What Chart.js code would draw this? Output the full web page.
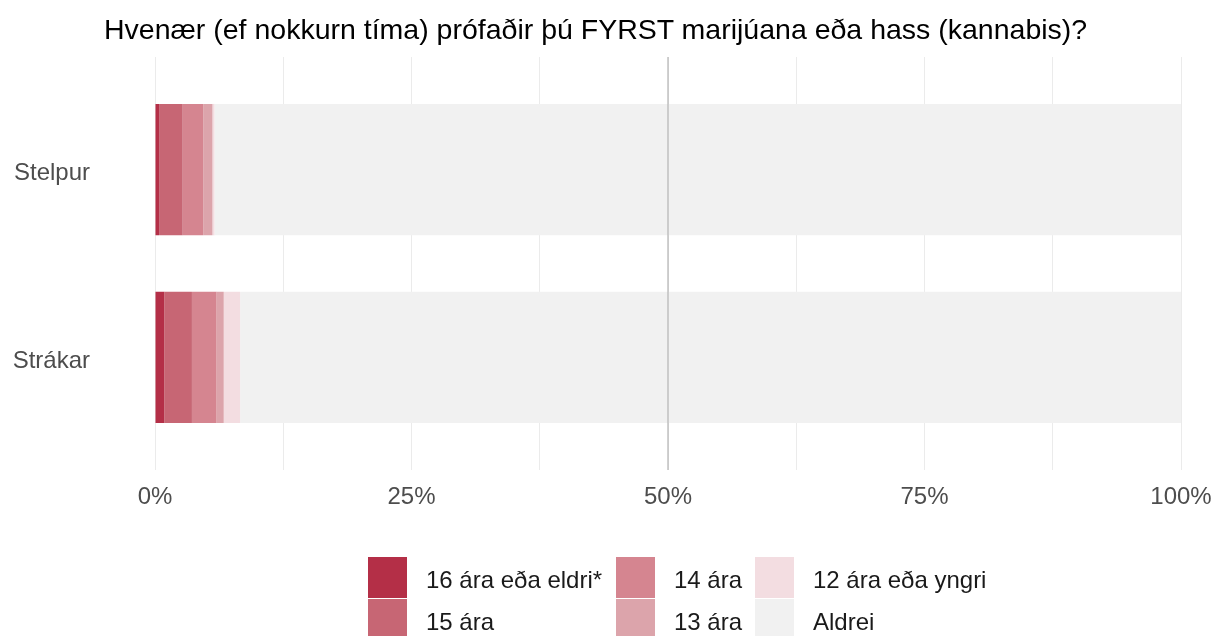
<!DOCTYPE html>
<html><head><meta charset="utf-8">
<script src="https://cdn.jsdelivr.net/npm/chart.js@4"></script>
<style>
html,body{margin:0;padding:0;background:#fff;}
#wrap{position:relative;width:1212px;height:636px;overflow:hidden;font-family:"Liberation Sans",Arial,sans-serif;}
#c{position:absolute;left:0;top:0;}
#title{position:absolute;left:104px;top:15px;font-size:28.5px;line-height:28.5px;color:#000;white-space:nowrap;}
#legend{position:absolute;left:368px;top:556px;display:grid;grid-template-rows:42px 42px;grid-template-columns:248px 139px auto;grid-auto-flow:column;}
.item{display:flex;align-items:center;}
.box{width:39px;height:41px;margin-right:19px;flex:none;}
.lt{font-size:24px;line-height:24px;color:#1a1a1a;white-space:nowrap;padding-top:6px;}
</style></head>
<body><div id="wrap"><canvas id="c" width="1212" height="636"></canvas><div id="title"></div><div id="legend"></div></div>
<script>
const chartTitle = 'Hvenær (ef nokkurn tíma) prófaðir þú FYRST marijúana eða hass (kannabis)?';
const categories = ['Stelpur', 'Strákar'];
const seriesLabels = ['16 ára eða eldri*', '15 ára', '14 ára', '13 ára', '12 ára eða yngri', 'Aldrei'];
const age16plus = [0.4, 0.9];
const age15 = [2.3, 2.7];
const age14 = [2.0, 2.4];
const age13 = [0.9, 0.7];
const age12minus = [0.2, 1.6];
const never = [94.2, 91.7];
const seriesColors = ['#b42f47', '#c76674', '#d58590', '#dca4ab', '#f3dde1', '#f1f1f1'];
const xMajorTicks = [0, 25, 50, 75, 100];
const xMinorTicks = [12.5, 37.5, 62.5, 87.5];
const referenceLine = 50;

const FONT = '"Liberation Sans", Arial, sans-serif';
const series = [age16plus, age15, age14, age13, age12minus, never];

const refLinePlugin = {
  id: 'refLine',
  afterDatasetsDraw(chart) {
    const {ctx, chartArea, scales} = chart;
    const x = scales.x.getPixelForValue(referenceLine);
    ctx.save();
    ctx.strokeStyle = '#b8b8b8';
    ctx.lineWidth = 1.3;
    ctx.beginPath();
    ctx.moveTo(x, chartArea.top);
    ctx.lineTo(x, chartArea.bottom);
    ctx.stroke();
    ctx.restore();
  }
};

const chart = new Chart(document.getElementById('c'), {
  type: 'bar',
  data: {
    datasets: series.map((vals, i) => ({
      label: seriesLabels[i],
      data: vals.map((v, j) => ({x: v, y: j + 1})),
      backgroundColor: seriesColors[i],
      borderWidth: 0,
      barPercentage: 0.7,
      categoryPercentage: 1
    }))
  },
  options: {
    indexAxis: 'y',
    responsive: false,
    animation: false,
    layout: {padding: {top: 57, right: 31, left: 0, bottom: 0}},
    plugins: {legend: {display: false}, title: {display: false}, tooltip: {enabled: false}},
    scales: {
      x: {
        type: 'linear', stacked: true, min: 0, max: 100, position: 'bottom', offset: false,
        afterFit(s) { s.height = 166; s.paddingLeft = 0; s.paddingRight = 0; s.paddingTop = 0; s.paddingBottom = 0; },
        afterBuildTicks(s) {
          s.ticks = [...xMajorTicks, ...xMinorTicks].sort((a, b) => a - b).map(v => ({value: v}));
        },
        ticks: {
          callback: v => xMajorTicks.includes(v) ? v + '%' : '',
          padding: 13, color: '#4d4d4d', font: {family: FONT, size: 24},
          maxRotation: 0, autoSkip: false
        },
        grid: {color: '#ebebeb', lineWidth: 1, drawTicks: false, offset: false},
        border: {display: false}
      },
      y: {
        type: 'linear', stacked: true, min: 0.4, max: 2.6, reverse: true, offset: false,
        afterFit(s) { s.width = 155; s.paddingLeft = 0; s.paddingRight = 0; s.paddingTop = 0; s.paddingBottom = 0; },
        afterBuildTicks(s) { s.ticks = categories.map((c, i) => ({value: i + 1})); },
        ticks: {
          callback: v => categories[v - 1] ?? '',
          padding: 65, labelOffset: 4, color: '#4d4d4d', font: {family: FONT, size: 24}
        },
        grid: {display: false, offset: false, drawTicks: false},
        border: {display: false}
      }
    }
  },
  plugins: [refLinePlugin]
});

document.getElementById('title').textContent = chartTitle;
const legendEl = document.getElementById('legend');
chart.data.datasets.forEach(ds => {
  const item = document.createElement('div');
  item.className = 'item';
  const box = document.createElement('span');
  box.className = 'box';
  box.style.background = ds.backgroundColor;
  const t = document.createElement('span');
  t.className = 'lt';
  t.textContent = ds.label;
  item.appendChild(box);
  item.appendChild(t);
  legendEl.appendChild(item);
});
</script>
</body></html>
